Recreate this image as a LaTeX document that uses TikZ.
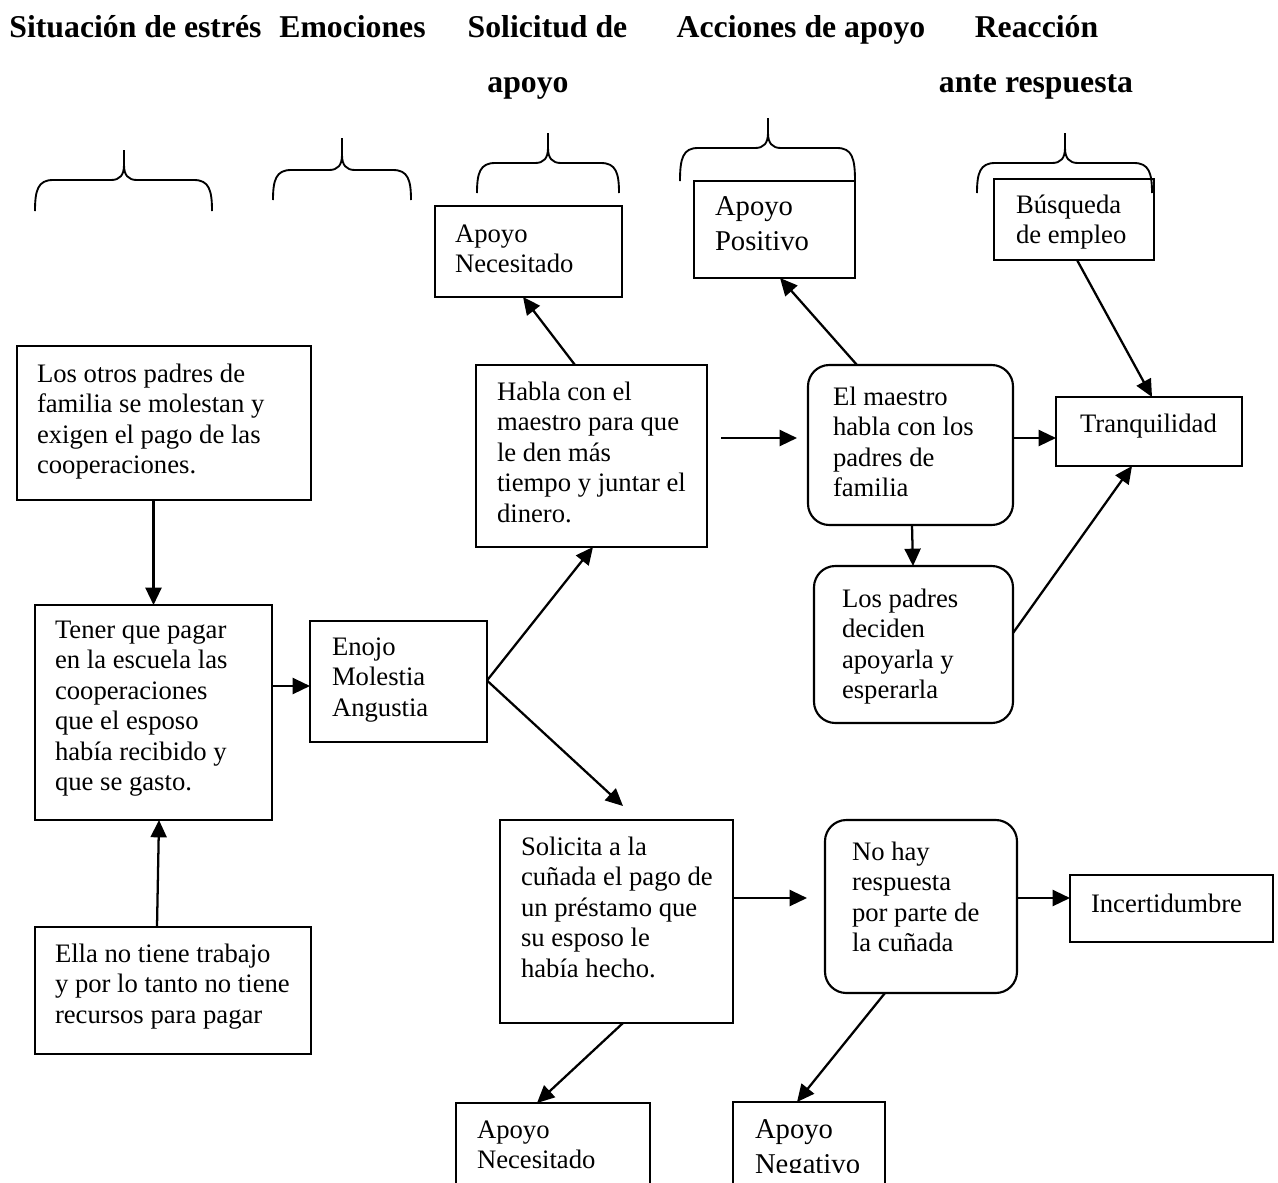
\documentclass[tikz,border=0pt]{standalone}
\usepackage{fontspec}
\setmainfont{Liberation Serif}
\usetikzlibrary{arrows.meta,calc}
\newcommand\bodyfs{\fontsize{20}{22.9}\selectfont}
\newcommand\bigfs{\fontsize{21.5}{26.3}\selectfont}
\newcommand\hdrfs{\bfseries\fontsize{23.8}{28}\selectfont}
\tikzset{
 box/.style={draw, line width=1.6pt, anchor=north west, inner sep=0pt, outer sep=0pt},
 rbox/.style={box, rounded corners=16pt},
 txt/.style={anchor=north west, inner sep=0pt, outer sep=0pt, align=left, font=\bodyfs},
 bigtxt/.style={txt, font=\bigfs},
 hdr/.style={anchor=base, inner sep=0pt, font=\hdrfs},
 arr/.style={-{Triangle[length=13pt,width=12pt]}, line width=1.7pt},
 brc/.style={line width=1.4pt},
}
% box: [style]{name}{x1}{y1}{x2}{y2}
\newcommand\mybox[6][box]{\node[#1, minimum width={0.75pt*(#5-#3)}, minimum height={0.75pt*(#6-#4)}] (#2) at (#3,#4) {};}
% text: [style]{name}{x}{first baseline}{text}
\newcommand\mytext[5][txt]{\node[#1] (#2) at (#3,#4-21.333) {\rule{0pt}{16pt}#5};}
% brace: xl xr xm ytip yflat ybottom
\newcommand\mybrace[6]{%
 \draw[brc] (#1,#6) .. controls (#1,#5+10) and (#1+3,#5) .. (#1+18,#5) -- (#3-13,#5)
   .. controls (#3-4,#5) and (#3,#5-5) .. (#3,#5-15) -- (#3,#4);
 \draw[brc] (#3,#4) -- (#3,#5-15) .. controls (#3,#5-5) and (#3+4,#5) .. (#3+13,#5)
   -- (#2-18,#5) .. controls (#2-3,#5) and (#2,#5+10) .. (#2,#6);
}
\begin{document}
\begin{tikzpicture}[x=0.75pt,y=-0.75pt]
\useasboundingbox (0,0) rectangle (1278,1182);
\fill[white] (0,0) rectangle (1278,1182);
\clip (0,0) rectangle (1278,1182);

% headers
\node[hdr] (h1) at (135.5,37) {Situación de estrés};
\node[hdr] (h2) at (352.5,37) {Emociones};
\node[hdr] (h3) at (547.5,37) {Solicitud de};
\node[hdr] (h3b) at (528,92) {apoyo};
\node[hdr] (h4) at (801,37) {Acciones de apoyo};
\node[hdr] (h5) at (1036.5,37) {Reacción};
\node[hdr] (h5b) at (1036,92) {ante respuesta};

% braces
\mybrace{35}{212}{124}{150}{180}{211}
\mybrace{273}{411}{342}{138}{170}{200}
\mybrace{477}{619}{548}{133}{163}{193}
\mybrace{680}{855}{768}{118}{148}{181}
\mybrace{977}{1152}{1065}{133}{163}{193}

% boxes
\mybox{LP}{17}{346}{311}{500}
\mybox{TQ}{35}{605}{272}{820}
\mybox{EL}{35}{927}{311}{1054}
\mybox{EN}{310}{621}{487}{742}
\mybox{AN1}{435}{206}{622}{297}
\mybox{HC}{476}{365}{707}{547}
\mybox{AP}{694}{181}{855}{278}
\mybox[rbox]{EM}{808}{365}{1013}{525}
\mybox[rbox]{LPD}{814}{566}{1013}{723}
\mybox{BE}{994}{179}{1154}{260}
\mybox{TR}{1056}{397}{1242}{466}
\mybox{ST}{500}{820}{733}{1023}
\mybox[rbox]{NH}{825}{820}{1017}{993}
\mybox{IN}{1070}{875}{1273}{942}
\mybox{AN2}{456}{1103}{650}{1200}
\mybox{AG}{733}{1102}{885}{1200}

% texts
\mytext{tLP}{37}{382}{Los otros padres de\\familia se molestan y\\exigen el pago de las\\cooperaciones.}
\mytext{tTQ}{55}{638}{Tener que pagar\\en la escuela las\\cooperaciones\\que el esposo\\había recibido y\\que se gasto.}
\mytext{tEL}{55}{962}{Ella no tiene trabajo\\y por lo tanto no tiene\\recursos para pagar}
\mytext{tEN}{332}{655}{Enojo\\Molestia\\Angustia}
\mytext{tAN1}{455}{242}{Apoyo\\Necesitado}
\mytext{tHC}{497}{400}{Habla con el\\maestro para que\\le den más\\tiempo y juntar el\\dinero.}
\mytext[bigtxt]{tAP}{715}{215}{Apoyo\\Positivo}
\mytext{tEM}{833}{405}{El maestro\\habla con los\\padres de\\familia}
\mytext{tLPD}{842}{607}{Los padres\\deciden\\apoyarla y\\esperarla}
\mytext{tBE}{1016}{213}{Búsqueda\\de empleo}
\mytext{tTR}{1080}{432}{Tranquilidad}
\mytext{tST}{521}{855}{Solicita a la\\cuñada el pago de\\un préstamo que\\su esposo le\\había hecho.}
\mytext{tNH}{852}{860}{No hay\\respuesta\\por parte de\\la cuñada}
\mytext{tIN}{1091}{912}{Incertidumbre}
\begin{scope}
\clip (0,0) rectangle (1278,1172);
\mytext{tAN2}{477}{1138}{Apoyo\\Necesitado}
\mytext[bigtxt]{tAG}{755}{1138}{Apoyo\\Negativo}
\end{scope}

% arrows
\draw[arr] (LP.south -| TQ.north) -- (TQ.north);
\draw[arr] ($(EL.north west)+(122,0)$) -- ($(TQ.south west)+(124,0)$);
\draw[arr] ($(TQ.north east)+(0,81)$) -- ($(EN.north west)+(0,65)$);
\draw[arr] ($(EN.east)+(0,-1)$) -- ($(HC.south west)+(117,0)$);
\draw[arr] ($(EN.east)+(0,-1)$) -- ($(ST.north west)+(123,-14)$);
\draw[arr] ($(HC.north west)+(99,0)$) -- ($(AN1.south west)+(88,0)$);
\draw[arr] ($(HC.north east)+(14,73)$) -- ($(EM.north west)+(-11,73)$);
\draw[arr] ($(EM.north west)+(49,0)$) -- ($(AP.south west)+(86,0)$);
\draw[arr] ($(EM.north east)+(0,73)$) -- ($(TR.north west)+(0,41)$);
\draw[arr] ($(BE.south west)+(83,0)$) -- ($(TR.north west)+(96,0)$);
\draw[arr] ($(EM.south west)+(104,0)$) -- ($(LPD.north west)+(99,0)$);
\draw[arr] ($(LPD.north east)+(0,67)$) -- ($(TR.south west)+(76,0)$);
\draw[arr] ($(ST.north east)+(0,78)$) -- ($(NH.north west)+(-18,78)$);
\draw[arr] ($(NH.north east)+(0,78)$) -- ($(IN.north west)+(0,23)$);
\draw[arr] ($(ST.south west)+(123,0)$) -- ($(AN2.north west)+(81,0)$);
\draw[arr] ($(NH.south west)+(60,0)$) -- ($(AG.north west)+(64,0)$);
\end{tikzpicture}
\end{document}
